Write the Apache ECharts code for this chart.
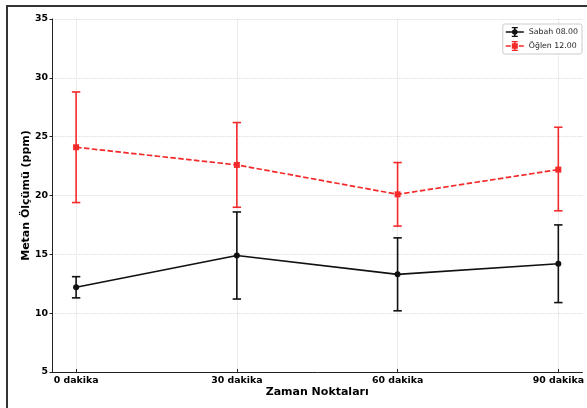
<!DOCTYPE html>
<html>
<head>
<meta charset="utf-8">
<script src="https://cdn.jsdelivr.net/npm/echarts@6/dist/echarts.min.js"></script>
<style>
html,body{margin:0;padding:0;background:#fff;}
#chart{width:587px;height:408px;}
</style>
</head>
<body>
<div id="chart"></div>
<script>
const categories = ['0 dakika', '30 dakika', '60 dakika', '90 dakika'];
const xPositions = [0, 1, 2, 3];
const sabahMean = [12.2, 14.9, 13.3, 14.2];
const sabahLow  = [11.3, 11.2, 10.2, 10.9];
const sabahHigh = [13.1, 18.6, 16.4, 17.5];
const oglenMean = [24.1, 22.6, 20.1, 22.2];
const oglenLow  = [19.4, 19.0, 17.4, 18.7];
const oglenHigh = [28.8, 26.2, 22.8, 25.8];
const yTicks = [5, 10, 15, 20, 25, 30, 35];
const seriesNames = ['Sabah 08.00', 'Öğlen 12.00'];

const FONT = 'DejaVu Sans';
const BLACK = '#111111';
const RED = '#f42a2a';

function errData(low, high) {
  return xPositions.map((x, i) => [x, low[i], high[i]]);
}
function lineData(mean) {
  return xPositions.map((x, i) => [x, mean[i]]);
}
function errRender(color) {
  return function (params, api) {
    const x = api.value(0);
    const lo = api.coord([x, api.value(1)]);
    const hi = api.coord([x, api.value(2)]);
    const cap = 4.2;
    const style = { stroke: color, lineWidth: 1.6 };
    return {
      type: 'group',
      children: [
        { type: 'line', shape: { x1: lo[0], y1: lo[1], x2: hi[0], y2: hi[1] }, style: style },
        { type: 'line', shape: { x1: lo[0] - cap, y1: lo[1], x2: lo[0] + cap, y2: lo[1] }, style: style },
        { type: 'line', shape: { x1: hi[0] - cap, y1: hi[1], x2: hi[0] + cap, y2: hi[1] }, style: style }
      ]
    };
  };
}

const iconBlack = 'path://M0 4.2 L18 4.2 L18 5.8 L0 5.8 Z M8.2 0 L9.8 0 L9.8 10 L8.2 10 Z M6 0 L12 0 L12 1.3 L6 1.3 Z M6 8.7 L12 8.7 L12 10 L6 10 Z M6.2 5 A2.8 2.8 0 1 1 11.8 5 A2.8 2.8 0 1 1 6.2 5 Z';
const iconRed = 'path://M0 4.2 L5 4.2 L5 5.8 L0 5.8 Z M13 4.2 L18 4.2 L18 5.8 L13 5.8 Z M8.2 0 L9.8 0 L9.8 10 L8.2 10 Z M6 0 L12 0 L12 1.3 L6 1.3 Z M6 8.7 L12 8.7 L12 10 L6 10 Z M6 2.2 L12 2.2 L12 7.8 L6 7.8 Z';

const chart = echarts.init(document.getElementById('chart'), null, { renderer: 'canvas' });
chart.setOption({
  animation: false,
  backgroundColor: '#ffffff',
  graphic: [{
    type: 'rect',
    shape: { x: 7, y: 6, width: 1000, height: 1000 },
    style: { fill: 'none', stroke: '#333333', lineWidth: 2 },
    silent: true,
    z: 100
  }],
  grid: { left: 52, top: 19, right: 3, bottom: 36, containLabel: false },
  legend: {
    data: [
      { name: seriesNames[0], icon: iconBlack, itemStyle: { color: BLACK } },
      { name: seriesNames[1], icon: iconRed, itemStyle: { color: RED } }
    ],
    orient: 'vertical',
    right: 5,
    top: 24,
    align: 'left',
    itemWidth: 18,
    itemHeight: 10,
    itemGap: 4,
    padding: [3, 4, 3, 3],
    borderColor: '#cccccc',
    borderWidth: 1,
    borderRadius: 2,
    backgroundColor: '#ffffff',
    textStyle: { fontFamily: FONT, fontSize: 7.8, color: '#222222' }
  },
  xAxis: {
    type: 'value',
    min: -0.15,
    max: 3.15,
    name: 'Zaman Noktaları',
    nameLocation: 'middle',
    nameGap: 15,
    nameMoveOverlap: false,
    nameTextStyle: { fontFamily: FONT, fontWeight: 'bold', fontSize: 11, color: '#000' },
    axisLine: { show: true, onZero: false, lineStyle: { color: '#222', width: 1 } },
    axisTick: { show: true, inside: true, length: 3, customValues: xPositions, lineStyle: { color: '#222' } },
    axisLabel: {
      customValues: xPositions,
      formatter: function (v) { return categories[Math.round(v)]; },
      fontFamily: FONT, fontWeight: 'bold', fontSize: 9.4, color: '#000', margin: 4
    },
    splitLine: { show: true, lineStyle: { color: '#cfcfcf', type: 'dotted', width: 0.8 } }
  },
  yAxis: {
    type: 'value',
    min: 5,
    max: 35,
    interval: 5,
    name: 'Metan Ölçümü (ppm)',
    nameLocation: 'middle',
    nameGap: 20,
    nameMoveOverlap: false,
    nameTextStyle: { fontFamily: FONT, fontWeight: 'bold', fontSize: 11, color: '#000' },
    axisLine: { show: true, onZero: false, lineStyle: { color: '#222', width: 1 } },
    axisTick: { show: true, inside: false, length: 2.5, lineStyle: { color: '#222' } },
    axisLabel: {
      formatter: function (v) { return yTicks.indexOf(v) >= 0 ? String(v) : ''; },
      fontFamily: FONT, fontWeight: 'bold', fontSize: 9.4, color: '#000', margin: 4
    },
    splitLine: { show: true, lineStyle: { color: '#cfcfcf', type: 'dotted', width: 0.8 } }
  },
  series: [
    {
      name: 'errSabah', type: 'custom', renderItem: errRender(BLACK),
      data: errData(sabahLow, sabahHigh), encode: { x: 0, y: [1, 2] }, z: 3, silent: true
    },
    {
      name: 'errOglen', type: 'custom', renderItem: errRender(RED),
      data: errData(oglenLow, oglenHigh), encode: { x: 0, y: [1, 2] }, z: 3, silent: true
    },
    {
      name: seriesNames[0], type: 'line', data: lineData(sabahMean),
      symbol: 'circle', symbolSize: 6,
      itemStyle: { color: BLACK },
      lineStyle: { color: BLACK, width: 1.7 },
      z: 4
    },
    {
      name: seriesNames[1], type: 'line', data: lineData(oglenMean),
      symbol: 'rect', symbolSize: 6,
      itemStyle: { color: RED },
      lineStyle: { color: RED, width: 1.7, type: [5.5, 2.4] },
      z: 4
    }
  ]
});
</script>
</body>
</html>
